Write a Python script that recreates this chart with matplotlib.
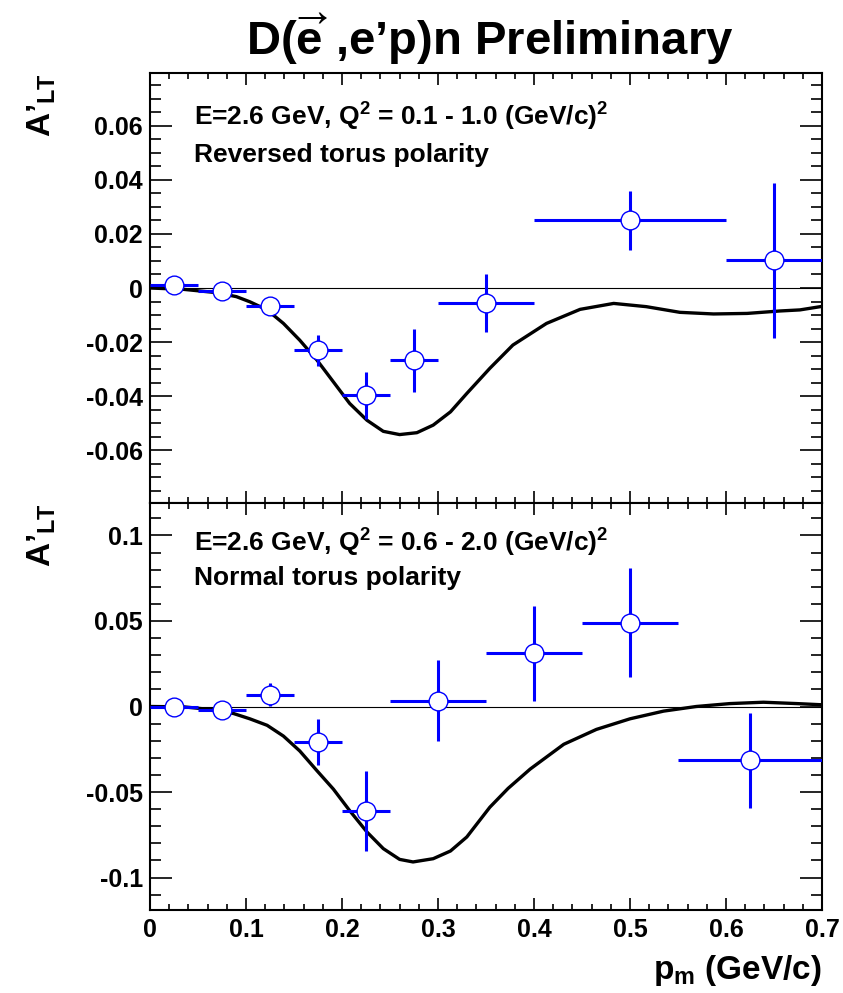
import numpy as np
import matplotlib.pyplot as plt
from matplotlib.ticker import MultipleLocator, FuncFormatter

plt.rcParams['font.family'] = 'Liberation Sans'
plt.rcParams['font.weight'] = 'bold'
plt.rcParams['axes.labelweight'] = 'bold'
plt.rcParams['mathtext.fontset'] = 'custom'
plt.rcParams['mathtext.rm'] = 'Liberation Sans:bold'
plt.rcParams['mathtext.it'] = 'Liberation Sans:bold'
plt.rcParams['mathtext.bf'] = 'Liberation Sans:bold'

# --- data ---
# upper panel: E=2.6 GeV, Q2 = 0.1-1.0, reversed torus
pm_top = [0.025, 0.075, 0.125, 0.175, 0.225, 0.275, 0.35, 0.5, 0.65]
dpm_top = [0.025, 0.025, 0.025, 0.025, 0.025, 0.025, 0.05, 0.1, 0.05]
alt_top = [0.0011, -0.001, -0.0068, -0.023, -0.0397, -0.0267, -0.0055, 0.025, 0.0102]
dalt_top = [0.0012, 0.0012, 0.0015, 0.0057, 0.0087, 0.0116, 0.0108, 0.011, 0.0288]

# lower panel: E=2.6 GeV, Q2 = 0.6-2.0, normal torus
pm_bot = [0.025, 0.075, 0.125, 0.175, 0.225, 0.3, 0.4, 0.5, 0.625]
dpm_bot = [0.025, 0.025, 0.025, 0.025, 0.025, 0.05, 0.05, 0.05, 0.075]
alt_bot = [0.0, -0.002, 0.007, -0.0207, -0.0612, 0.0035, 0.031, 0.049, -0.0314]
dalt_bot = [0.001, 0.0015, 0.0065, 0.0136, 0.0233, 0.0237, 0.028, 0.0317, 0.0278]

# theory curves
pm_th_top = [0.0, 0.035, 0.069, 0.09, 0.104, 0.122, 0.139, 0.156, 0.174, 0.191,
             0.208, 0.226, 0.243, 0.26, 0.278, 0.295, 0.313, 0.33, 0.354, 0.378,
             0.413, 0.448, 0.483, 0.517, 0.552, 0.587, 0.622, 0.656, 0.677, 0.7]
alt_th_top = [0.0, -0.0005, -0.0017, -0.0032, -0.0051, -0.0081, -0.0131, -0.0193, -0.0267, -0.0347,
              -0.0427, -0.0489, -0.053, -0.0542, -0.0535, -0.0507, -0.0458, -0.039, -0.0297, -0.0211,
              -0.0131, -0.0079, -0.0057, -0.0069, -0.009, -0.0096, -0.0094, -0.0085, -0.0081, -0.0068]

pm_th_bot = [0.0, 0.035, 0.069, 0.087, 0.104, 0.122, 0.139, 0.156, 0.174, 0.191,
             0.208, 0.226, 0.243, 0.26, 0.274, 0.295, 0.313, 0.33, 0.354, 0.373,
             0.396, 0.431, 0.465, 0.5, 0.535, 0.569, 0.604, 0.639, 0.674, 0.7]
alt_th_bot = [0.0, -0.0002, -0.0021, -0.0041, -0.0072, -0.011, -0.0173, -0.026, -0.0376, -0.0483,
              -0.0609, -0.0734, -0.0831, -0.0894, -0.0909, -0.089, -0.0845, -0.0763, -0.0589, -0.0479,
              -0.0366, -0.0221, -0.0134, -0.0072, -0.0027, 0.0, 0.0017, 0.0025, 0.0017, 0.001]

fig = plt.figure(figsize=(8.43, 9.93), dpi=100)
ax1 = fig.add_axes([150 / 843, 490 / 993, 672 / 843, 430 / 993])
ax2 = fig.add_axes([150 / 843, 83 / 993, 672 / 843, 407 / 993])

fmt = FuncFormatter(lambda v, p: '%g' % round(v, 4))

def draw(ax, pm, dpm, alt, dalt, pm_th, alt_th, ylim, major, minor, lines):
    ax.axhline(0, color='black', lw=0.8, zorder=1)
    ax.plot(pm_th, alt_th, color='black', lw=2.4, zorder=2, solid_joinstyle='round')
    ax.errorbar(pm, alt, xerr=dpm, yerr=dalt, fmt='o', color='blue', ecolor='blue',
                elinewidth=2.2, capsize=0, ms=13.5, mfc='white', mec='blue', mew=1.0, zorder=3)
    ax.set_xlim(0, 0.7)
    ax.set_ylim(-ylim, ylim)
    ax.xaxis.set_major_locator(MultipleLocator(0.1))
    ax.xaxis.set_minor_locator(MultipleLocator(0.02))
    ax.yaxis.set_major_locator(MultipleLocator(major))
    ax.yaxis.set_minor_locator(MultipleLocator(minor))
    ax.xaxis.set_major_formatter(fmt)
    ax.yaxis.set_major_formatter(fmt)
    ax.tick_params(which='both', direction='in', top=True, right=True, width=1.2, labelsize=18)
    ax.tick_params(axis='y', which='major', length=16, pad=5)
    ax.tick_params(axis='y', which='minor', length=8)
    ax.tick_params(axis='x', which='major', length=8.5, pad=6)
    ax.tick_params(axis='x', which='minor', length=4)
    for s in ax.spines.values():
        s.set_linewidth(1.5)
    ax.text(0.065, lines[0], lines[1], transform=ax.transAxes, fontsize=19, va='baseline')
    ax.text(0.065, lines[2], lines[3], transform=ax.transAxes, fontsize=19, va='baseline')
    ax.set_ylabel('A’$_{LT}$', fontsize=24, loc='top')
    ax.yaxis.set_label_coords(-0.137, 1.0)

draw(ax1, pm_top, dpm_top, alt_top, dalt_top, pm_th_top, alt_th_top, 0.0795, 0.02, 0.005,
     (0.877, 'E=2.6 GeV, Q$^{2}$ = 0.1 - 1.0 (GeV/c)$^{2}$', 0.793, 'Reversed torus polarity'))
draw(ax2, pm_bot, dpm_bot, alt_bot, dalt_bot, pm_th_bot, alt_th_bot, 0.119, 0.05, 0.01,
     (0.880, 'E=2.6 GeV, Q$^{2}$ = 0.6 - 2.0 (GeV/c)$^{2}$', 0.799, 'Normal torus polarity'))
ax1.tick_params(axis='x', labelbottom=False)

ax2.set_xlabel('p$_{m}$ (GeV/c)', fontsize=24, loc='right')
ax2.xaxis.set_label_coords(1.0, -0.105)

fig.text(490 / 843, 938 / 993, r"D($\overrightarrow{\mathrm{e}}$ ,e’p)n Preliminary",
         ha='center', va='baseline', fontsize=34)

fig.savefig('out.png', dpi=100)
